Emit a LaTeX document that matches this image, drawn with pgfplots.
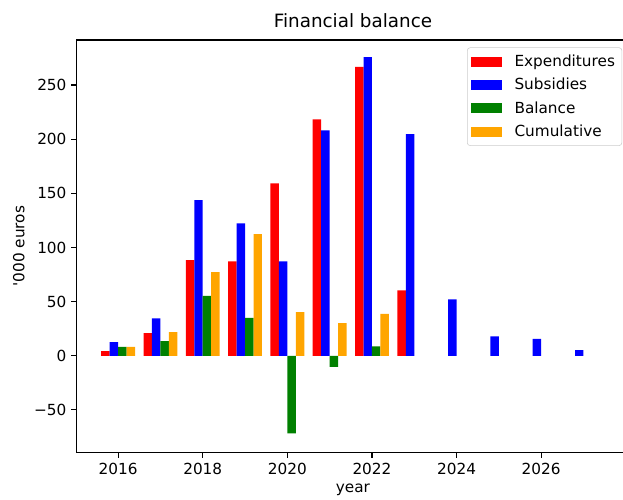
\documentclass[border=0pt]{standalone}
\usepackage{pgfplots}
\pgfplotsset{compat=1.18}
\usepackage{fontspec}
\setmainfont{DejaVu Sans}[Ligatures=TeXOff]

\definecolor{mplred}{HTML}{FF0000}
\definecolor{mplblue}{HTML}{0000FF}
\definecolor{mplgreen}{HTML}{008000}
\definecolor{mplorange}{HTML}{FFA500}

\begin{document}
\begin{tikzpicture}
\begin{axis}[
    name=ax,
    scale only axis,
    width=393.3pt,
    height=297pt,
    xmin=2015.02, xmax=2027.934,
    ymin=-89.4, ymax=291.6,
    clip mode=individual,
    xtick={2016,2018,2020,2022,2024,2026},
    xticklabels={2016,2018,2020,2022,2024,2026},
    ytick={-50,0,50,100,150,200,250},
    yticklabels={−50,0,50,100,150,200,250},
    tick pos=left,
    tick align=outside,
    major tick length=3.85pt,
    every tick/.style={black, line width=0.8pt},
    axis line style={draw=none},
    tick label style={font=\fontsize{11}{13}\selectfont},
    xlabel={year},
    ylabel={'000 euros},
    xlabel style={xshift=2.25pt},
    label style={font=\fontsize{11}{13}\selectfont},
    title={Financial balance},
    title style={font=\fontsize{13.2}{15}\selectfont, xshift=2.25pt, yshift=-1pt},
    legend style={at={(0.7145,0.982)}, anchor=north west,
        draw=black!20, rounded corners=2pt, fill=white,
        font=\fontsize{11}{13}\selectfont,
        row sep=3pt, column sep=7pt, inner xsep=3pt, inner ysep=3pt},
    legend cell align=left,
    legend image code/.code={\fill[#1, sharp corners] (0pt,-3.6pt) rectangle (22pt,3.6pt);},
]
\addplot[ybar, bar width=0.2, bar shift=-0.3, fill=mplred, draw=none] coordinates {
    (2016,4.3) (2017,20.9) (2018,88.4) (2019,87.1) (2020,159.2)
    (2021,218.3) (2022,266.9) (2023,60.3)
};
\addlegendentry{Expenditures}
\addplot[ybar, bar width=0.2, bar shift=-0.1, fill=mplblue, draw=none] coordinates {
    (2016,12.6) (2017,34.5) (2018,143.8) (2019,122.2) (2020,87.1)
    (2021,208.1) (2022,275.8) (2023,204.7) (2024,52.0) (2025,17.9)
    (2026,15.7) (2027,5.2)
};
\addlegendentry{Subsidies}
\addplot[ybar, bar width=0.2, bar shift=0.1, fill=mplgreen, draw=none] coordinates {
    (2016,8.3) (2017,13.6) (2018,55.4) (2019,35.1) (2020,-71.6)
    (2021,-10.2) (2022,8.6)
};
\addlegendentry{Balance}
\addplot[ybar, bar width=0.2, bar shift=0.3, fill=mplorange, draw=none] coordinates {
    (2016,8.3) (2017,21.9) (2018,77.3) (2019,112.4) (2020,40.3)
    (2021,30.1) (2022,38.7)
};
\addlegendentry{Cumulative}
% spines: left, bottom and top; the right one lies beyond the cropped edge
\draw[black, line width=0.8pt]
    (rel axis cs:1,0) -- (rel axis cs:0,0) -- (rel axis cs:0,1) -- (rel axis cs:1,1);
\end{axis}
\pgfresetboundingbox
\path[use as bounding box] ([xshift=-55.2pt,yshift=-33.5pt]ax.south west)
    rectangle ([yshift=28.8pt]ax.north east);
\end{tikzpicture}
\end{document}
